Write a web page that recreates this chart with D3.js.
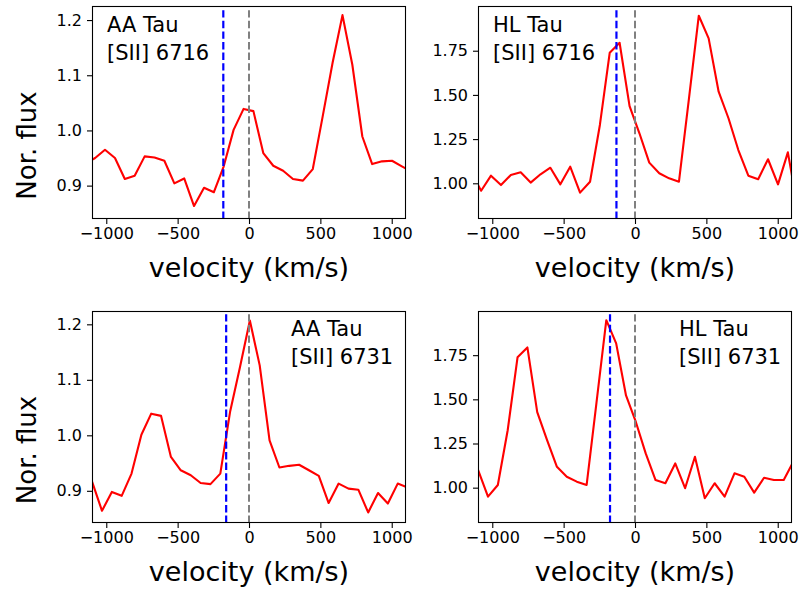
<!DOCTYPE html>
<html>
<head>
<meta charset="utf-8">
<script src="https://cdn.jsdelivr.net/npm/d3@7"></script>
<style>
  html, body { margin: 0; padding: 0; background: #fff; }
  svg { display: block; font-family: "DejaVu Sans", sans-serif; }
</style>
</head>
<body>
<svg id="chart" width="801" height="595"></svg>
<script>
// ---------------- data ----------------
const xTicks = [-1000, -500, 0, 500, 1000];
const aaYTicks = [0.9, 1.0, 1.1, 1.2];
const hlYTicks = [1.00, 1.25, 1.50, 1.75];

// velocity grids (km/s)
const vel6716 = [-1147, -1078, -1009, -939, -870, -801, -731, -662, -593, -523, -454, -385, -315, -246, -177, -108, -38, 31, 100, 170, 239, 308, 378, 447, 516, 586, 655, 724, 794, 863, 932, 1002, 1071, 1140];
const vel6731 = [-1168, -1099, -1030, -961, -892, -823, -754, -685, -616, -547, -478, -408, -339, -270, -201, -132, -63, 6, 75, 144, 213, 282, 351, 420, 489, 558, 628, 697, 766, 835, 904, 973, 1042, 1111];

// normalised fluxes
const aaTau6716 = [0.940, 0.950, 0.965, 0.950, 0.912, 0.918, 0.953, 0.951, 0.945, 0.904, 0.913, 0.863, 0.896, 0.888, 0.935, 1.001, 1.039, 1.035, 0.959, 0.936, 0.927, 0.912, 0.909, 0.930, 1.025, 1.123, 1.209, 1.119, 0.989, 0.939, 0.944, 0.945, 0.935, 0.925];
const hlTau6716 = [1.060, 0.958, 1.043, 0.990, 1.047, 1.062, 1.004, 1.051, 1.088, 0.994, 1.094, 0.947, 1.009, 1.330, 1.739, 1.795, 1.437, 1.283, 1.117, 1.057, 1.028, 1.009, 1.479, 1.948, 1.820, 1.518, 1.368, 1.188, 1.043, 1.023, 1.136, 0.994, 1.175, 0.860];
const aaTau6731 = [0.930, 0.916, 0.864, 0.898, 0.891, 0.931, 1.001, 1.039, 1.035, 0.961, 0.937, 0.928, 0.914, 0.912, 0.931, 1.043, 1.123, 1.207, 1.126, 0.991, 0.942, 0.945, 0.947, 0.937, 0.927, 0.878, 0.913, 0.904, 0.902, 0.861, 0.896, 0.877, 0.913, 0.906];
const hlTau6731 = [1.150, 1.100, 0.949, 1.015, 1.325, 1.738, 1.794, 1.428, 1.269, 1.118, 1.062, 1.034, 1.015, 1.480, 1.948, 1.817, 1.522, 1.372, 1.194, 1.043, 1.025, 1.137, 0.997, 1.175, 0.940, 1.025, 0.949, 1.081, 1.062, 0.972, 1.056, 1.043, 1.043, 1.150];

// blue dashed marker velocities (km/s)
const markerVel = [-180, -130, -160, -175];
const starNames = ["AA Tau", "HL Tau", "AA Tau", "HL Tau"];
const lineNames = ["[SII] 6716", "[SII] 6716", "[SII] 6731", "[SII] 6731"];
const xLabel = "velocity (km/s)";
const yLabel = "Nor. flux";

// ---------------- layout ----------------
const svg = d3.select("#chart");
const cols = [{l: 92, r: 406}, {l: 478, r: 792}];
const rows = [{t: 6, b: 219}, {t: 311, b: 523}];

const panels = [
  {col: 0, row: 0, vel: vel6716, flux: aaTau6716, yDom: [0.8395, 1.2255], yTicks: aaYTicks, fmt: ".1f", textLeft: true},
  {col: 1, row: 0, vel: vel6716, flux: hlTau6716, yDom: [0.798, 2.003], yTicks: hlYTicks, fmt: ".2f", textLeft: true},
  {col: 0, row: 1, vel: vel6731, flux: aaTau6731, yDom: [0.842, 1.224], yTicks: aaYTicks, fmt: ".1f", textLeft: false},
  {col: 1, row: 1, vel: vel6731, flux: hlTau6731, yDom: [0.80, 2.0], yTicks: hlYTicks, fmt: ".2f", textLeft: false}
];

panels.forEach((p, i) => {
  const c = cols[p.col], r = rows[p.row];
  const x = d3.scaleLinear().domain([-1100, 1100]).range([c.l, c.r]);
  const y = d3.scaleLinear().domain(p.yDom).range([r.b, r.t]);
  const g = svg.append("g");

  const clipId = "clip" + i;
  svg.append("clipPath").attr("id", clipId)
    .append("rect").attr("x", c.l).attr("y", r.t).attr("width", c.r - c.l).attr("height", r.b - r.t);

  const pts = p.vel.map((v, k) => [v, p.flux[k]]);
  const line = d3.line().x(d => x(d[0])).y(d => y(d[1]));
  g.append("path").datum(pts)
    .attr("clip-path", `url(#${clipId})`)
    .attr("d", line)
    .attr("fill", "none").attr("stroke", "#ff0000").attr("stroke-width", 2.1)
    .attr("stroke-linejoin", "round");

  // grey zero line
  g.append("line")
    .attr("x1", x(0)).attr("x2", x(0)).attr("y1", r.b).attr("y2", r.t)
    .attr("stroke", "#808080").attr("stroke-width", 2).attr("stroke-dasharray", "7.4,3.2");
  // blue marker line
  g.append("line")
    .attr("x1", x(markerVel[i])).attr("x2", x(markerVel[i])).attr("y1", r.b).attr("y2", r.t)
    .attr("stroke", "#0000ff").attr("stroke-width", 2.2).attr("stroke-dasharray", "7.4,3.2");

  // axes
  const xa = g.append("g").attr("transform", `translate(0,${r.b})`)
    .call(d3.axisBottom(x).tickValues(xTicks).tickFormat(d3.format("d")).tickSize(5).tickPadding(4).tickSizeOuter(0));
  const ya = g.append("g").attr("transform", `translate(${c.l},0)`)
    .call(d3.axisLeft(y).tickValues(p.yTicks).tickFormat(d3.format(p.fmt)).tickSize(5).tickPadding(5).tickSizeOuter(0));
  [xa, ya].forEach(a => {
    a.select(".domain").remove();
    a.selectAll("line").attr("stroke", "#000").attr("stroke-width", 1.1);
    a.selectAll("text").attr("font-size", 16).attr("fill", "#000").attr("font-family", "DejaVu Sans");
  });

  // frame
  g.append("rect").attr("x", c.l + 0.5).attr("y", r.t + 0.5)
    .attr("width", c.r - c.l - 1).attr("height", r.b - r.t - 1)
    .attr("fill", "none").attr("stroke", "#000").attr("stroke-width", 1.1);

  // annotation
  const tx = p.textLeft ? c.l + 15 : (p.col === 0 ? c.l + 199 : c.l + 201);
  const ty = p.textLeft ? r.t + 25.5 : r.t + 25;
  const t = g.append("text").attr("font-size", 21).attr("fill", "#000");
  t.append("tspan").attr("x", tx).attr("y", ty).text(starNames[i]);
  t.append("tspan").attr("x", tx).attr("y", ty + 28).text(lineNames[i]);

  // x label
  g.append("text").attr("x", (c.l + c.r) / 2).attr("y", r.b + 58)
    .attr("text-anchor", "middle").attr("font-size", 27).attr("fill", "#000").text(xLabel);

  if (p.col === 0) {
    g.append("text")
      .attr("transform", `translate(36,${(r.t + r.b) / 2 + 33}) rotate(-90)`)
      .attr("text-anchor", "middle").attr("font-size", 26).attr("fill", "#000").text(yLabel);
  }
});
</script>
</body>
</html>
